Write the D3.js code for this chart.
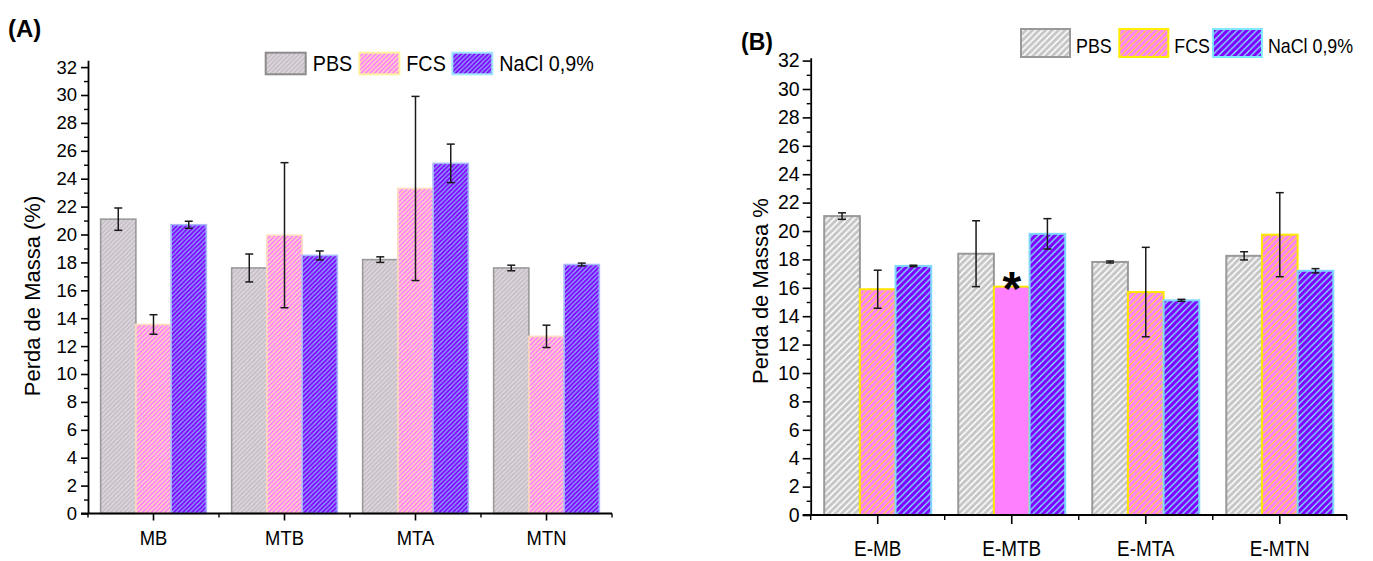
<!DOCTYPE html>
<html><head><meta charset="utf-8">
<script src="https://cdn.jsdelivr.net/npm/d3@7"></script>
<style>html,body{margin:0;padding:0;background:#fff;}svg{display:block;}text{font-family:"Liberation Sans",Arial,sans-serif;fill:#000;}</style>
</head><body>
<script>
// ---------- data ----------
const seriesNames = ["PBS", "FCS", "NaCl 0,9%"];
const categoriesA = ["MB", "MTB", "MTA", "MTN"];
const pbsA = [21.1, 17.6, 18.2, 17.6];
const pbsErrA = [0.8, 1.0, 0.2, 0.2];
const fcsA = [13.55, 19.95, 23.3, 12.7];
const fcsErrA = [0.7, 5.2, 6.6, 0.8];
const naclA = [20.7, 18.5, 25.1, 17.85];
const naclErrA = [0.25, 0.32, 1.38, 0.1];

const categoriesB = ["E-MB", "E-MTB", "E-MTA", "E-MTN"];
const pbsB = [21.05, 18.4, 17.82, 18.25];
const pbsErrB = [0.23, 2.32, 0.07, 0.29];
const fcsB = [15.9, 16.08, 15.7, 19.74];
const fcsErrB = [1.34, 0, 3.15, 2.96];
const naclB = [17.54, 19.8, 15.12, 17.2];
const naclErrB = [0.05, 1.07, 0.07, 0.15];
const solidBarsB = [[1, 1]]; // [category index, series index] drawn without hatch
const starBarsB = [[1, 1]];

const yMajorTicks = d3.range(0, 33, 2);
const yMinorTicks = d3.range(1, 32, 2);
const yLabelA = "Perda de Massa (%)";
const yLabelB = "Perda de Massa %";

// ---------- drawing ----------
const W = 1373, H = 561;
const svg = d3.select("body").append("svg").attr("width", W).attr("height", H);
const defs = svg.append("defs");

function makePattern(id, base, stripe, period, sw) {
  const p = defs.append("pattern").attr("id", id).attr("patternUnits", "userSpaceOnUse")
    .attr("width", period).attr("height", period);
  p.append("rect").attr("width", period).attr("height", period).attr("fill", base);
  const q = period;
  p.append("path").attr("d", `M${-q/2},${q/2} L${q/2},${-q/2} M0,${q} L${q},0 M${q/2},${1.5*q} L${1.5*q},${q/2}`)
    .attr("stroke", stripe).attr("stroke-width", sw).attr("fill", "none");
}
makePattern("pA0", "#c6bec6", "#e4dee4", 4.5, 1.2);
makePattern("pA1", "#ff7cff", "#ffeeb0", 4.5, 1.2);
makePattern("pA2", "#7f00ff", "#90b8ff", 4.5, 1.2);
makePattern("pB0", "#c6c6c6", "#ffffff", 6.5, 1.5);
makePattern("pB1", "#ff80ff", "#ffee00", 6.5, 1.0);
makePattern("pB2", "#7f00ff", "#80ffff", 6.5, 1.2);

function panel(cfg) {
  const g = svg.append("g");
  const vals = [cfg.pbs, cfg.fcs, cfg.nacl];
  const errs = [cfg.pbsErr, cfg.fcsErr, cfg.naclErr];
  const x0 = d3.scaleBand().domain(cfg.cats).range(cfg.xRange)
    .paddingInner(cfg.pad).paddingOuter(cfg.pad / 2);
  const x1 = d3.scaleBand().domain(seriesNames).range([0, x0.bandwidth()]);
  const y = d3.scaleLinear().domain(cfg.yDomain).range(cfg.yRange);

  // bars
  cfg.cats.forEach((c, ci) => {
    seriesNames.forEach((s, si) => {
      const v = vals[si][ci];
      const solid = (cfg.solid || []).some(d => d[0] === ci && d[1] === si);
      g.append("rect")
        .attr("x", x0(c) + x1(s)).attr("y", y(v))
        .attr("width", x1.bandwidth()).attr("height", y(0) - y(v))
        .attr("fill", solid ? cfg.solidFill[si] : `url(#${cfg.pid}${si})`)
        .attr("stroke", cfg.borders[si]).attr("stroke-width", cfg.borderW);
    });
  });
  // error bars
  cfg.cats.forEach((c, ci) => {
    seriesNames.forEach((s, si) => {
      const v = vals[si][ci], e = errs[si][ci];
      if (!e) return;
      const cx = x0(c) + x1(s) + x1.bandwidth() / 2;
      const ge = g.append("g").attr("stroke", "#1a1a1a").attr("stroke-width", 1.5);
      ge.append("line").attr("x1", cx).attr("x2", cx).attr("y1", y(v - e)).attr("y2", y(v + e));
      [v - e, v + e].forEach(t => ge.append("line").attr("x1", cx - 4).attr("x2", cx + 4).attr("y1", y(t)).attr("y2", y(t)));
    });
  });
  // stars
  (cfg.stars || []).forEach(([ci, si]) => {
    const c = cfg.cats[ci], s = seriesNames[si];
    g.append("text").attr("x", x0(c) + x1(s) + x1.bandwidth() / 2)
      .attr("y", y(vals[si][ci]) + cfg.starDy).attr("text-anchor", "middle")
      .attr("font-size", cfg.starSize).attr("font-weight", "bold").text("*");
  });

  // y axis
  const ya = g.append("g").attr("transform", `translate(${cfg.xRange[0]},0)`)
    .call(d3.axisLeft(y).tickValues(yMajorTicks).tickSize(cfg.majorLen).tickSizeOuter(0).tickPadding(cfg.yTickPad));
  ya.select(".domain").attr("stroke-width", 1.8);
  ya.selectAll(".tick line").attr("stroke-width", 1.6);
  ya.selectAll(".tick text").attr("font-size", cfg.yTickFont).attr("font-family", null);
  const ym = g.append("g").attr("transform", `translate(${cfg.xRange[0]},0)`)
    .call(d3.axisLeft(y).tickValues(yMinorTicks).tickSize(cfg.minorLen).tickSizeOuter(0).tickFormat(""));
  ym.select(".domain").remove();
  ym.selectAll(".tick line").attr("stroke-width", 1.4);

  // x axis
  const xa = g.append("g").attr("transform", `translate(0,${y(0)})`)
    .call(d3.axisBottom(x0).tickSize(cfg.xMajorLen).tickSizeOuter(0).tickPadding(cfg.xTickPad));
  xa.select(".domain").attr("stroke-width", 1.8).attr("d", `M${cfg.xRange[0] - cfg.majorLen},0H${cfg.xRange[1]}`);
  xa.selectAll(".tick line").attr("stroke-width", 1.6);
  xa.selectAll(".tick text").attr("font-size", cfg.xTickFont).attr("font-family", null)
    .attr("transform", `scale(${cfg.xTickSx},1)`);
  const step = x0.step();
  d3.range(cfg.cats.length + 1).forEach(i => {
    const xx = cfg.xRange[0] + i * step;
    xa.append("line").attr("x1", xx).attr("x2", xx).attr("y1", 0).attr("y2", cfg.xMinorLen)
      .attr("stroke", "#000").attr("stroke-width", 1.4);
  });

  // y label
  g.append("text").attr("transform", `translate(${cfg.yLabelX},${cfg.yLabelY}) rotate(-90)`)
    .attr("text-anchor", "middle").attr("font-size", cfg.yLabelFont).text(cfg.yLabel);
  // panel letter
  g.append("text").attr("x", cfg.letterX).attr("y", cfg.letterY).attr("font-size", cfg.letterFont)
    .attr("font-weight", "bold").text(cfg.letter);

  // legend
  seriesNames.forEach((s, si) => {
    const lx = cfg.legendX[si];
    g.append("rect").attr("x", lx).attr("y", cfg.legendY).attr("width", cfg.legendW).attr("height", cfg.legendH)
      .attr("fill", `url(#${cfg.pid}${si})`).attr("stroke", cfg.legendBorders[si]).attr("stroke-width", 2);
    g.append("text")
      .attr("transform", `translate(${lx + cfg.legendW + cfg.legendGap},${cfg.legendBase}) scale(${cfg.legendSx},1)`)
      .attr("font-size", cfg.legendFont).text(s);
  });
}

panel({
  cats: categoriesA, pbs: pbsA, fcs: fcsA, nacl: naclA,
  pbsErr: pbsErrA, fcsErr: fcsErrA, naclErr: naclErrA,
  xRange: [88, 612], pad: 0.193,
  yDomain: [0, 32.5], yRange: [513.5, 513.5 - 32.5 * 13.95],
  pid: "pA", borders: ["#9a9a9a", "#ffdcc0", "#a8b8ff"], borderW: 1.6,
  solidFill: ["#c8c0c8", "#ff80ff", "#8000ff"],
  majorLen: 7, minorLen: 4, xMajorLen: 7, xMinorLen: 4, yTickPad: 4, xTickPad: 10,
  yTickFont: 18.5, xTickFont: 20, xTickSx: 0.92,
  yLabel: yLabelA, yLabelX: 40, yLabelY: 296, yLabelFont: 22,
  letter: "(A)", letterX: 8, letterY: 37, letterFont: 24,
  legendX: [265.7, 359.3, 452.3], legendY: 52.7, legendW: 40, legendH: 21.6, legendGap: 7,
  legendBase: 71, legendFont: 21.5, legendSx: 0.92,
  legendBorders: ["#8c8c8c", "#fff0a0", "#a0e8ff"]
});

panel({
  cats: categoriesB, pbs: pbsB, fcs: fcsB, nacl: naclB,
  pbsErr: pbsErrB, fcsErr: fcsErrB, naclErr: naclErrB,
  xRange: [810.7, 1346.8], pad: 0.2015,
  yDomain: [0, 32.2], yRange: [515, 515 - 32.2 * 14.2],
  pid: "pB", borders: ["#999999", "#ffe600", "#80d8ff"], borderW: 2,
  solidFill: ["#c8c8c8", "#ff80ff", "#8000ff"], solid: solidBarsB,
  stars: starBarsB, starDy: 18, starSize: 48,
  majorLen: 8, minorLen: 4, xMajorLen: 9, xMinorLen: 5, yTickPad: 3, xTickPad: 16,
  yTickFont: 19.5, xTickFont: 22, xTickSx: 0.86,
  yLabel: yLabelB, yLabelX: 768, yLabelY: 291, yLabelFont: 22,
  letter: "(B)", letterX: 741, letterY: 50, letterFont: 23,
  legendX: [1021, 1119.3, 1212.9], legendY: 29, legendW: 49, legendH: 28, legendGap: 6,
  legendBase: 53, legendFont: 21, legendSx: 0.85,
  legendBorders: ["#999999", "#ffee00", "#80e8ff"]
});
</script>
</body></html>
